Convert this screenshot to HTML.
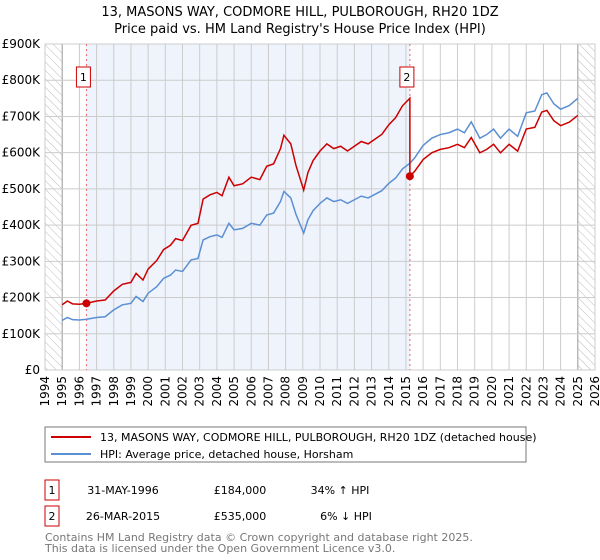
<!DOCTYPE html>
<html><head><meta charset="utf-8"><style>
body{margin:0;width:600px;height:560px;background:#fff;font-family:"DejaVu Sans","Liberation Sans",sans-serif;overflow:hidden}
svg{position:absolute;left:0;top:0}
</style></head><body>
<svg width="600" height="560" id="chart" font-family="DejaVu Sans, Liberation Sans, sans-serif">
<defs><pattern id="hatch" width="6" height="6" patternUnits="userSpaceOnUse" patternTransform="rotate(-45)"><line x1="0" y1="0" x2="0" y2="6" stroke="#bbb" stroke-width="1"/></pattern></defs>
<text x="300" y="16" text-anchor="middle" font-size="13">13, MASONS WAY, CODMORE HILL, PULBOROUGH, RH20 1DZ</text>
<text x="300" y="33" text-anchor="middle" font-size="13">Price paid vs. HM Land Registry's House Price Index (HPI)</text>
<g id="plot"></g>
<rect x="45" y="427" width="481" height="35" fill="#fff" stroke="#777"/>
<line x1="51" y1="437" x2="91" y2="437" stroke="#cc0000" stroke-width="2"/>
<text x="100" y="441" font-size="11">13, MASONS WAY, CODMORE HILL, PULBOROUGH, RH20 1DZ (detached house)</text>
<line x1="51" y1="454" x2="91" y2="454" stroke="#5b8fd4" stroke-width="2"/>
<text x="100" y="458" font-size="11">HPI: Average price, detached house, Horsham</text>
<g font-size="11">
<rect x="45" y="480" width="14" height="20" fill="#fff" stroke="#cc0000"/>
<text x="52" y="494" text-anchor="middle">1</text>
<text x="123" y="494" text-anchor="middle">31-MAY-1996</text>
<text x="240" y="494" text-anchor="middle">£184,000</text>
<text x="340" y="494" text-anchor="middle">34% ↑ HPI</text>
<rect x="45" y="506" width="14" height="20" fill="#fff" stroke="#cc0000"/>
<text x="52" y="520" text-anchor="middle">2</text>
<text x="123" y="520" text-anchor="middle">26-MAR-2015</text>
<text x="240" y="520" text-anchor="middle">£535,000</text>
<text x="346" y="520" text-anchor="middle">6% ↓ HPI</text>
</g>
<text x="45" y="541" font-size="11" fill="#777">Contains HM Land Registry data © Crown copyright and database right 2025.</text>
<text x="45" y="552" font-size="11" fill="#777">This data is licensed under the Open Government Licence v3.0.</text>
</svg>
<script>
const hpiYears=[1995.0,1995.3,1995.6,1996.0,1996.41,1997.0,1997.5,1998.0,1998.5,1999.0,1999.3,1999.7,2000.0,2000.5,2000.9,2001.3,2001.6,2002.0,2002.5,2002.9,2003.2,2003.6,2004.0,2004.3,2004.7,2005.0,2005.5,2006.0,2006.5,2006.9,2007.3,2007.7,2007.9,2008.3,2008.6,2009.05,2009.3,2009.6,2010.0,2010.4,2010.8,2011.2,2011.6,2012.0,2012.4,2012.8,2013.2,2013.6,2014.0,2014.4,2014.8,2015.23,2015.5,2016.0,2016.5,2017.0,2017.5,2018.0,2018.4,2018.8,2019.3,2019.7,2020.1,2020.5,2021.0,2021.5,2022.0,2022.5,2022.9,2023.2,2023.6,2024.0,2024.5,2025.0];
const hpiValues=[137,145,139,138,140,145,147,166,180,184,203,189,212,230,253,262,276,272,304,308,359,368,373,366,405,387,391,405,400,428,433,465,493,475,430,378,415,440,460,475,465,470,460,470,480,475,485,495,515,530,555,571,585,620,640,650,655,665,655,685,640,650,665,640,665,645,710,715,760,765,735,720,730,750];
const saleYears=[1996.41,2015.23];
const salePrices=[184000,535000];
const yTicks=[0,100000,200000,300000,400000,500000,600000,700000,800000,900000];
const yTickLabels=["£0","£100K","£200K","£300K","£400K","£500K","£600K","£700K","£800K","£900K"];
const xTicks=[1994,1995,1996,1997,1998,1999,2000,2001,2002,2003,2004,2005,2006,2007,2008,2009,2010,2011,2012,2013,2014,2015,2016,2017,2018,2019,2020,2021,2022,2023,2024,2025,2026];

const X0=45,X1=595,Y0=370,Y1=44;
const xs=y=>X0+(y-1994)/(2026-1994)*(X1-X0);
const ys=v=>Y0-v/900000*(Y0-Y1);
const NS="http://www.w3.org/2000/svg";
const g=document.getElementById('plot');
function mk(t,a,p){const e=document.createElementNS(NS,t);for(const k in a)e.setAttribute(k,a[k]);(p||g).appendChild(e);return e;}

let e;
e=mk('rect',{x:xs(saleYears[0]),y:Y1,width:xs(saleYears[1])-xs(saleYears[0]),height:Y0-Y1,fill:'#eef3fc'});


e=mk('rect',{x:X0,y:Y1,width:xs(1995)-X0,height:Y0-Y1,fill:'url(#hatch)'});


e=mk('rect',{x:xs(2025),y:Y1,width:X1-xs(2025),height:Y0-Y1,fill:'url(#hatch)'});


xTicks.forEach((t,i)=>{
  e=mk('line',{x1:xs(t),x2:xs(t),y1:Y1,y2:Y0,stroke:(t==1995||t==2025)?'#999':'#ccc','stroke-width':1});
  
  
  e=mk('text',{x:0,y:0,'font-size':12,'text-anchor':'end',transform:`translate(${xs(t)+4},${Y0+6}) rotate(-90)`});
  e.textContent=t;
  
  
});
yTicks.forEach((t,i)=>{
  e=mk('line',{x1:X0,x2:X1,y1:ys(t),y2:ys(t),stroke:'#ccc','stroke-width':1});
  
  
  e=mk('text',{x:X0-5,y:ys(t)+4,'font-size':12,'text-anchor':'end'});
  e.textContent=yTickLabels[i];
  
  
});
e=mk('rect',{x:X0,y:Y1,width:X1-X0,height:Y0-Y1,fill:'none',stroke:'#ccc'});



saleYears.forEach((sy,i)=>{
  e=mk('line',{x1:xs(sy),x2:xs(sy),y1:Y1,y2:Y0,stroke:'#e66','stroke-width':1,'stroke-dasharray':'2,3'});
  
  
});

const hpiPts=hpiYears.map((y,i)=>[xs(y),ys(hpiValues[i]*1000)]);
e=mk('polyline',{points:hpiPts.map(p=>p.join(',')).join(' '),fill:'none',stroke:'#5b8fd4','stroke-width':1.5});



function hpiAt(y){for(let i=1;i<hpiYears.length;i++){if(y<=hpiYears[i]){const t=(y-hpiYears[i-1])/(hpiYears[i]-hpiYears[i-1]);return hpiValues[i-1]+t*(hpiValues[i]-hpiValues[i-1]);}}return hpiValues[hpiValues.length-1];}
const r1=salePrices[0]/(hpiAt(saleYears[0])*1000), r2=salePrices[1]/(hpiAt(saleYears[1])*1000);
const redPts=[];
hpiYears.forEach((y,i)=>{
  if(y<saleYears[1]) redPts.push([xs(y),ys(hpiValues[i]*1000*r1)]);
  else if(y==saleYears[1]){redPts.push([xs(y),ys(hpiValues[i]*1000*r1)]);redPts.push([xs(y),ys(salePrices[1])]);}
  else redPts.push([xs(y),ys(hpiValues[i]*1000*r2)]);
});
e=mk('polyline',{points:redPts.map(p=>p.join(',')).join(' '),fill:'none',stroke:'#cc0000','stroke-width':1.5});



saleYears.forEach((sy,i)=>{
  e=mk('circle',{cx:xs(sy),cy:ys(salePrices[i]),r:4,fill:'#cc0000'});
  
  
  e=mk('rect',{x:xs(sy)-10,y:67,width:14,height:20,fill:'#fff',stroke:'#cc0000'});
  
  
  e=mk('text',{x:xs(sy)-3,y:81,'font-size':11,'text-anchor':'middle'});
  e.textContent=String(i+1);
  
  
});
</script>
</body></html>
